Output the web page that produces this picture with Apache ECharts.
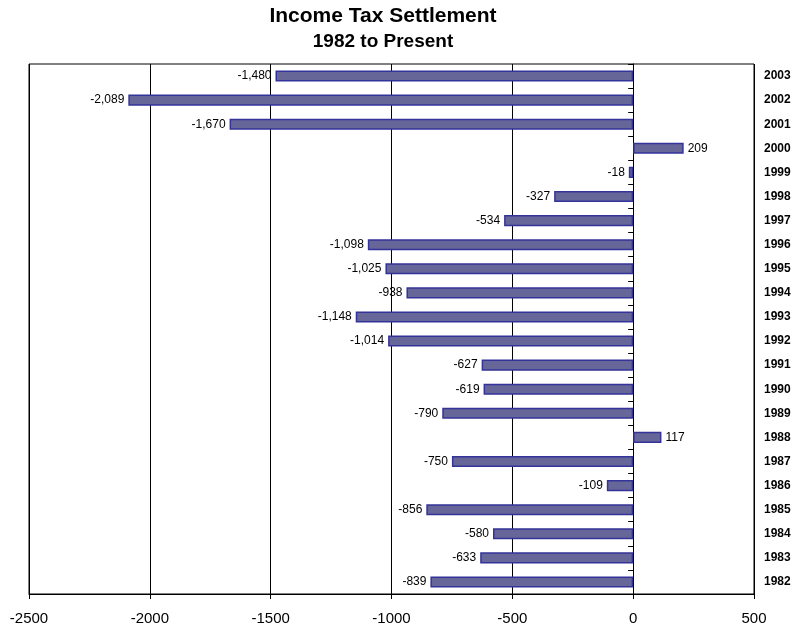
<!DOCTYPE html>
<html>
<head>
<meta charset="utf-8">
<script src="https://cdn.jsdelivr.net/npm/echarts@6/dist/echarts.min.js"></script>
<style>html,body{margin:0;padding:0;background:#fff}#c{width:797px;height:627px}</style>
</head>
<body>
<div id="c"></div>
<script>
const years = ['1982','1983','1984','1985','1986','1987','1988','1989','1990','1991','1992','1993','1994','1995','1996','1997','1998','1999','2000','2001','2002','2003'];
const settlement = [-839,-633,-580,-856,-109,-750,117,-790,-619,-627,-1014,-1148,-938,-1025,-1098,-534,-327,-18,209,-1670,-2089,-1480];
const xTicks = [-2500,-2000,-1500,-1000,-500,0,500];

function fmt(v){
  const s = Math.abs(v).toString().replace(/\B(?=(\d{3})+(?!\d))/g, ',');
  return (v < 0 ? '-' : '') + s;
}

const chart = echarts.init(document.getElementById('c'));
const font = '"Liberation Sans", Arial, sans-serif';
chart.setOption({
  animation: false,
  backgroundColor: '#fff',
  title: {
    text: 'Income Tax Settlement',
    subtext: '1982 to Present',
    left: 378, top: 0, textAlign: 'center',
    itemGap: 5,
    textStyle: {fontFamily: font, fontWeight: 'bold', fontSize: 21, lineHeight: 22, color: '#000'},
    subtextStyle: {fontFamily: font, fontWeight: 'bold', fontSize: 19, lineHeight: 20, color: '#000'}
  },
  grid: {left: 29, right: 43, top: 64, bottom: 33, show: true, borderColor: '#000', borderWidth: 1, backgroundColor: 'transparent'},
  xAxis: {
    type: 'value', min: xTicks[0], max: xTicks[xTicks.length-1], interval: 500,
    axisLine: {show: true, onZero: false, lineStyle: {color: '#000', width: 1}},
    axisTick: {show: true, length: 5, lineStyle: {color: '#000'}},
    splitLine: {show: true, lineStyle: {color: '#000', width: 1}},
    axisLabel: {fontFamily: font, fontSize: 15, color: '#000', margin: 17,
      formatter: v => xTicks.indexOf(v) >= 0 ? String(v) : ''}
  },
  yAxis: [{
    type: 'category', data: years, position: 'right',
    axisLine: {show: false, onZero: false}, axisTick: {show: false},
    axisLabel: {fontFamily: font, fontWeight: 'bold', fontSize: 12, color: '#000', margin: 10}
  }, {
    type: 'category', data: years, position: 'left',
    axisLine: {show: true, onZero: true, onZeroAxisIndex: 0, lineStyle: {color: '#000'}},
    axisTick: {show: true, length: 5, lineStyle: {color: '#000'}},
    axisLabel: {show: false}
  }],
  series: [{
    type: 'bar', yAxisIndex: 0,
    data: settlement.map(v => ({value: v, label: {position: v < 0 ? 'left' : 'right'}})),
    barWidth: '46%',
    itemStyle: {color: '#666699', borderColor: '#333399', borderWidth: 1.5},
    label: {show: true, fontFamily: font, fontSize: 12, color: '#000', distance: 4,
      formatter: p => fmt(p.value)}
  }]
});
</script>
</body>
</html>
